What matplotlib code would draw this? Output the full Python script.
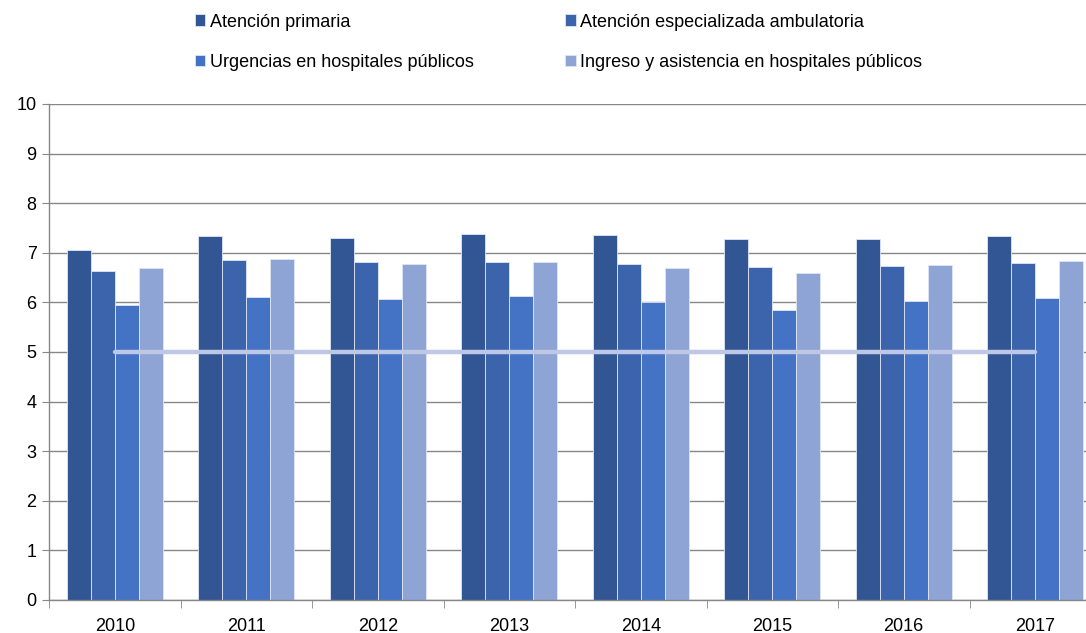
import matplotlib.pyplot as plt
import numpy as np

plt.rcParams['font.family'] = ['Liberation Sans', 'DejaVu Sans']

years = ["2010", "2011", "2012", "2013", "2014", "2015", "2016", "2017"]
series_names = [
    "Atención primaria",
    "Atención especializada ambulatoria",
    "Urgencias en hospitales públicos",
    "Ingreso y asistencia en hospitales públicos",
]
primaria = [7.06, 7.33, 7.29, 7.37, 7.35, 7.27, 7.28, 7.33]
especializada = [6.64, 6.85, 6.82, 6.82, 6.77, 6.72, 6.73, 6.79]
urgencias = [5.95, 6.10, 6.07, 6.13, 6.00, 5.85, 6.03, 6.08]
ingreso = [6.69, 6.87, 6.78, 6.81, 6.69, 6.59, 6.75, 6.84]
referencia = [5, 5, 5, 5, 5, 5, 5, 5]

colors = ["#325694", "#3B64AD", "#4473C5", "#8EA4D4"]

fig = plt.figure(figsize=(10.86, 6.33), dpi=100)
ax = fig.add_axes([49 / 1086, 33 / 633, 1052 / 1086, 496 / 633])

x = np.arange(len(years))
w = 0.1825
handles = []
for i, (vals, c) in enumerate(zip([primaria, especializada, urgencias, ingreso], colors)):
    b = ax.bar(x + (i - 1.5) * w, vals, w, color=c, edgecolor="#dfe6f3",
               linewidth=0.6, zorder=2, label=series_names[i])
    handles.append(b)

ax.plot(x, referencia, color="#BEC7E5", lw=3.2, solid_capstyle="round", zorder=3)

ax.set_xlim(-0.5, 7.5)
ax.set_ylim(0, 10)
ax.set_yticks(range(0, 11))
ax.set_xticks(x)
ax.set_xticklabels(years)
ax.set_xticks(np.arange(-0.5, 8, 1), minor=True)
ax.tick_params(axis="x", which="major", length=0, pad=13, labelsize=13)
ax.tick_params(axis="x", which="minor", length=6, color="#878787", direction="out")
ax.tick_params(axis="y", length=5, color="#878787", labelsize=13, pad=4)
ax.yaxis.grid(True, color="#878787", lw=1)
ax.set_axisbelow(True)
for s in ["top", "right"]:
    ax.spines[s].set_visible(False)
for s in ["left", "bottom"]:
    ax.spines[s].set_color("#878787")
    ax.spines[s].set_linewidth(1)

# legend filled row by row like the original
order = [0, 2, 1, 3]
fig.legend(handles=[handles[k] for k in order], ncol=2, loc="upper left",
           bbox_to_anchor=(181 / 1086, 1.0),
           frameon=False, fontsize=13, handlelength=0.6, handleheight=0.6,
           handletextpad=0.25, columnspacing=5.05, labelspacing=1.3, borderaxespad=0.35)

fig.savefig("out.png", dpi=100)
